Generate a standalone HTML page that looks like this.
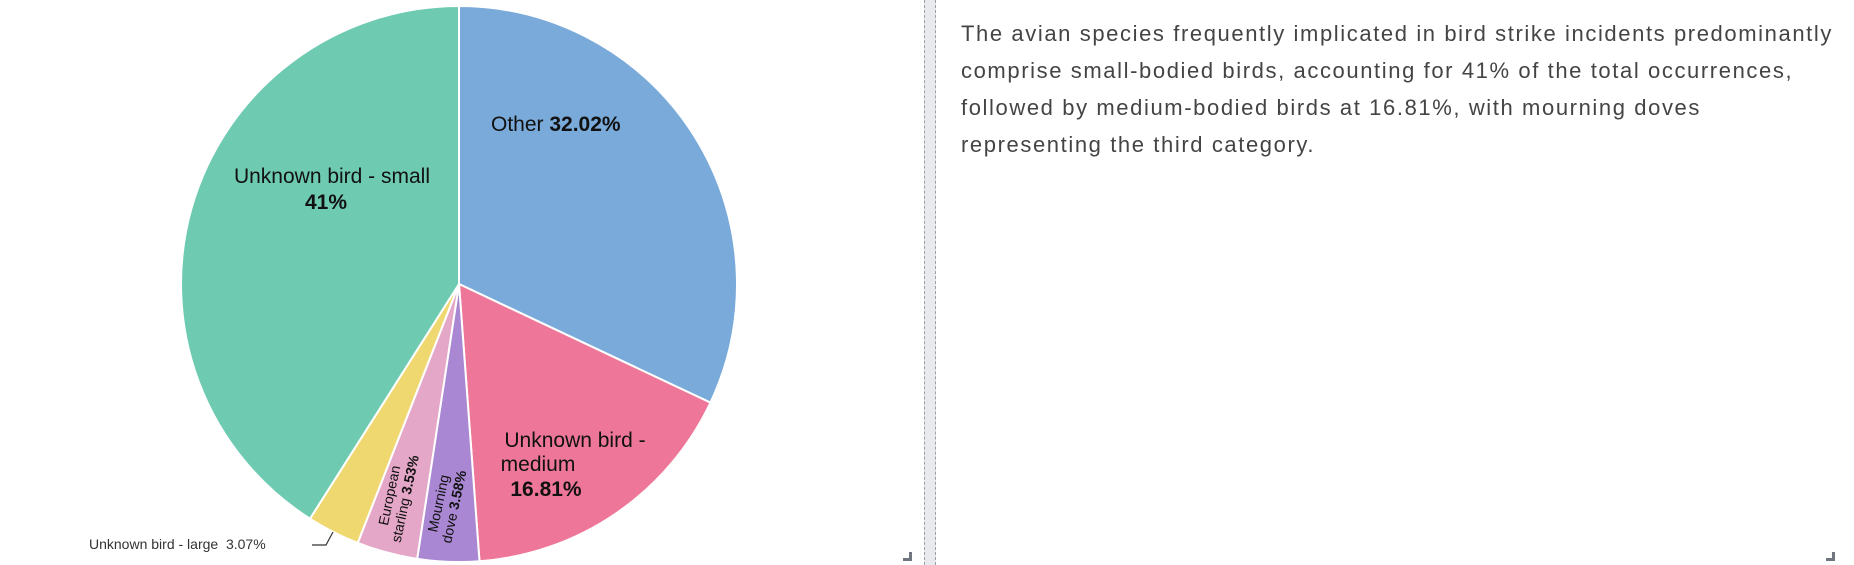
<!DOCTYPE html>
<html><head><meta charset="utf-8"><style>
html,body{margin:0;padding:0;background:#fff;width:1854px;height:565px;overflow:hidden;font-family:"Liberation Sans",sans-serif}
#divider{position:absolute;left:924px;top:0;width:10px;height:565px;background:#e8eaed;border-left:1px dashed #9aa0aa;border-right:1px dashed #9aa0aa}
#desc{position:absolute;left:961px;top:15px;width:890px;font-size:22px;line-height:37px;color:#444;white-space:nowrap;letter-spacing:1.6px}
.corner{position:absolute;width:6px;height:6px;border-right:3px solid #707580;border-bottom:3px solid #707580}
</style></head><body>
<svg id="chart" width="920" height="565" style="position:absolute;left:0;top:0"></svg>
<div id="divider"></div>
<div class="corner" style="left:903px;top:552px"></div>
<div class="corner" style="left:1826px;top:552px"></div>
<div id="desc">The avian species frequently implicated in bird strike incidents predominantly<br>comprise small-bodied birds, accounting for 41% of the total occurrences,<br>followed by medium-bodied birds at 16.81%, with mourning doves<br>representing the third category.</div>
<script>
const categories=["Other","Unknown bird - medium","Mourning dove","European starling","Unknown bird - large","Unknown bird - small"];
const values=[32.02,16.81,3.58,3.53,3.07,41];
const colors=["#7aaad9","#ee7799","#a987d2","#e4a7c8","#f0d870","#6ecbb2"];
const NS="http://www.w3.org/2000/svg";
const svg=document.getElementById('chart');
const cx=459,cy=284,r=278;
const total=values.reduce((a,b)=>a+b,0);
function pt(a,rr){return [cx+rr*Math.sin(a),cy-rr*Math.cos(a)];}
function mk(tag,attrs){const e=document.createElementNS(NS,tag);for(const k in attrs)e.setAttribute(k,attrs[k]);svg.appendChild(e);return e;}
let acc=0;
values.forEach((v,i)=>{
  const a0=acc/total*2*Math.PI;acc+=v;const a1=acc/total*2*Math.PI;
  const p0=pt(a0,r),p1=pt(a1,r);
  const p=mk('path',{d:`M${cx},${cy}L${p0[0]},${p0[1]}A${r},${r} 0 ${a1-a0>Math.PI?1:0} 1 ${p1[0]},${p1[1]}Z`,fill:colors[i],stroke:'#fff','stroke-width':2});
  
  
});
function txt(x,y,s,opt){const t=mk('text',Object.assign({x:x,y:y,'font-size':21,fill:'#111','text-anchor':'middle'},opt||{}));t.innerHTML=s;return t;}
function pct(i){return values[i]+'%';}
let t;
t=txt(491,131,'Other <tspan font-weight="bold">'+pct(0)+'</tspan>',{'text-anchor':'start'});


t=txt(332,183,'Unknown bird - small');


t=txt(326,209,pct(5),{'font-weight':'bold'});


t=txt(575,447,'Unknown bird -');


t=txt(538,471,'medium');


t=txt(546,496,pct(1),{'font-weight':'bold'});


function rot(x,y,l1,l2,name){
  const g=document.createElementNS(NS,'g');g.setAttribute('transform',`translate(${x},${y}) rotate(-78)`);
  g.innerHTML=`<text x="0" y="-3" font-size="14" text-anchor="middle" fill="#111">${l1}</text><text x="0" y="13" font-size="14" text-anchor="middle" fill="#111">${l2}</text>`;
  svg.appendChild(g);
  
  
}
rot(446,505,'Mourning','dove <tspan font-weight="bold">'+pct(2)+'</tspan>','label-dove');
rot(397,497,'European','starling <tspan font-weight="bold">'+pct(3)+'</tspan>','label-starling');
const ln=mk('polyline',{points:'312,545 326,545 333,532',fill:'none',stroke:'#333','stroke-width':1.2});


t=txt(89,549,categories[4]+'&#160; '+pct(4),{'text-anchor':'start','font-size':14,fill:'#333'});


</script>
</body></html>
